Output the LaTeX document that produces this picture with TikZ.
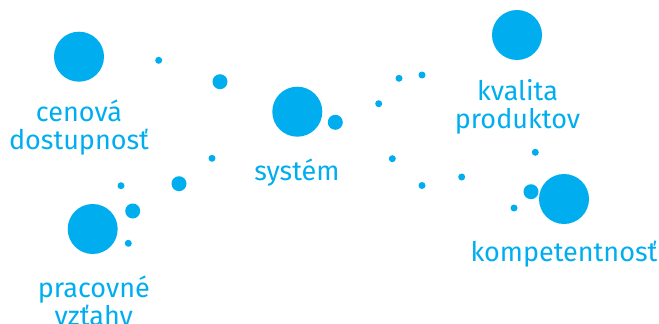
\documentclass[tikz,border=0pt]{standalone}
\usepackage{fontspec}
\setmainfont{Fira Sans}
\definecolor{dotblue}{RGB}{0,174,239}
\tikzset{
  bigdot/.style={circle,fill=dotblue,minimum size=50pt,inner sep=0pt},
  middot/.style={circle,fill=dotblue,minimum size=15pt,inner sep=0pt},
  smalldot/.style={circle,fill=dotblue,minimum size=7pt,inner sep=0pt},
  lbl/.style={text=dotblue,font=\fontsize{27}{27.6}\selectfont,align=center,inner sep=0pt,anchor=base}
}
\begin{document}
\begin{tikzpicture}[x=1pt,y=-1pt]
\useasboundingbox (0,0) rectangle (659,324);
% big circles
\node[bigdot] (cena) at (79,56.7) {};
\node[bigdot] (kval) at (517,35) {};
\node[bigdot] (sys) at (297.3,111.7) {};
\node[bigdot] (prac) at (92.7,229) {};
\node[bigdot] (komp) at (564,199) {};
% medium circles
\node[middot] (m1) at (220,81.7) {};
\node[middot] (m2) at (335.3,122.3) {};
\node[middot] (m3) at (179,183.7) {};
\node[middot] (m4) at (132.7,211) {};
\node[middot] (m5) at (531,191.7) {};
% small dots
\node[smalldot] (s1) at (158.7,60.3) {};
\node[smalldot] (s2) at (212,158.3) {};
\node[smalldot] (s3) at (399,78.3) {};
\node[smalldot] (s4) at (422,75) {};
\node[smalldot] (s5) at (378.7,103.7) {};
\node[smalldot] (s6) at (392.3,158.7) {};
\node[smalldot] (s7) at (422,185.5) {};
\node[smalldot] (s8) at (121,185.7) {};
\node[smalldot] (s9) at (128.3,243.3) {};
\node[smalldot] (s10) at (461.7,177) {};
\node[smalldot] (s11) at (535.3,152.3) {};
\node[smalldot] (s12) at (514,208) {};
% labels (anchor = baseline of last line)
\node[lbl] (tcena) at (79,149.3) {cenová\\dostupnosť};
\node[lbl] (tkval) at (517.5,128.3) {kvalita\\produktov};
\node[lbl] (tsys) at (297,180.7) {systém};
\node[lbl] (tprac) at (93.8,325) {pracovné\\vzťahy};
\node[lbl] (tkomp) at (564,261.7) {kompetentnosť};
\end{tikzpicture}
\end{document}
